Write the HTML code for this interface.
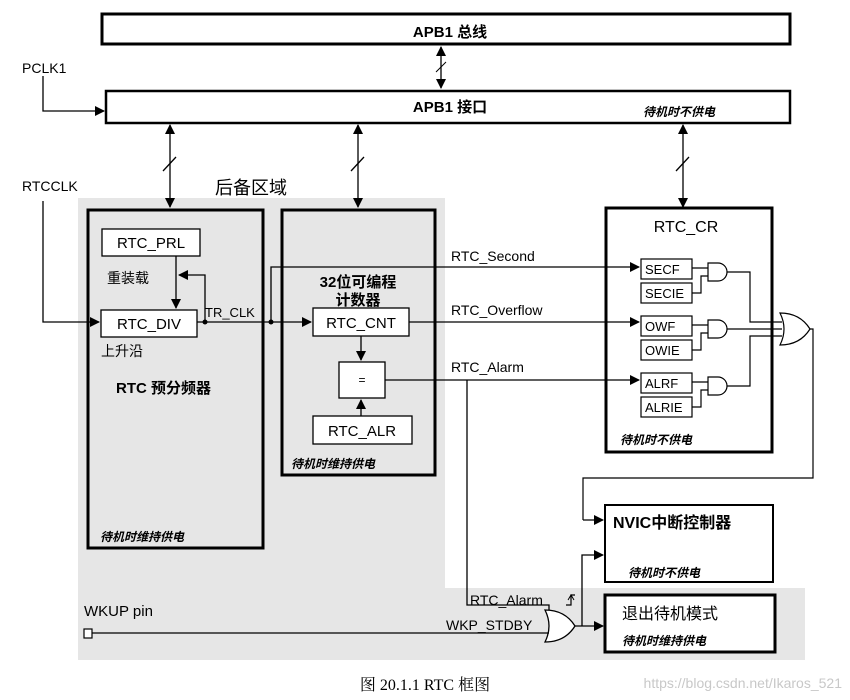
<!DOCTYPE html>
<html><head><meta charset="utf-8"><style>
html,body{margin:0;padding:0;background:#fff;}
svg{display:block}
text{font-family:"Liberation Sans","Noto Sans CJK SC",sans-serif;fill:#000}
.b{font-weight:bold}
.i{font-style:italic;font-weight:bold;font-size:12px}
</style></head><body>
<svg width="850" height="700" viewBox="0 0 850 700" xmlns="http://www.w3.org/2000/svg">
<defs>
<marker id="a" markerWidth="10" markerHeight="10" refX="9" refY="5" orient="auto" markerUnits="userSpaceOnUse"><path d="M0,0 L10,5 L0,10 z" fill="#000"/></marker>
<marker id="s" markerWidth="10" markerHeight="10" refX="1" refY="5" orient="auto" markerUnits="userSpaceOnUse"><path d="M10,0 L0,5 L10,10 z" fill="#000"/></marker>
</defs>
<path d="M78,198 H445 V588 H805 V660 H78 Z" fill="#e6e6e6"/>
<rect x="102" y="14" width="688" height="30" fill="#fff" stroke="#000" stroke-width="3"/>
<text x="450" y="37" text-anchor="middle" font-size="15" class="b">APB1 总线</text>
<rect x="106" y="91" width="684" height="32" fill="#fff" stroke="#000" stroke-width="2.5"/>
<text x="450" y="112" text-anchor="middle" font-size="15" class="b">APB1 接口</text>
<text x="643" y="116" class="i">待机时不供电</text>
<line x1="441" y1="47" x2="441" y2="88" stroke="#000" stroke-width="1.3" marker-start="url(#s)" marker-end="url(#a)"/>
<line x1="436" y1="72" x2="446" y2="62" stroke="#000"/>
<text x="22" y="73" font-size="14">PCLK1</text>
<polyline points="43,76 43,111 104,111" fill="none" stroke="#000" stroke-width="1.3" marker-end="url(#a)"/>
<g stroke="#000" stroke-width="1.3">
<line x1="170" y1="125" x2="170" y2="207" marker-start="url(#s)" marker-end="url(#a)"/>
<line x1="163" y1="171" x2="176" y2="157"/>
<line x1="358" y1="125" x2="358" y2="207" marker-start="url(#s)" marker-end="url(#a)"/>
<line x1="351" y1="171" x2="364" y2="157"/>
<line x1="683" y1="125" x2="683" y2="207" marker-start="url(#s)" marker-end="url(#a)"/>
<line x1="676" y1="171" x2="689" y2="157"/>
</g>
<text x="215" y="194" font-size="18">后备区域</text>
<text x="22" y="191" font-size="14">RTCCLK</text>
<rect x="88" y="210" width="175" height="338" fill="none" stroke="#000" stroke-width="3"/>
<rect x="102" y="229" width="98" height="27" fill="#fff" stroke="#000" stroke-width="1.3"/>
<text x="151" y="248" text-anchor="middle" font-size="15">RTC_PRL</text>
<rect x="101" y="310" width="96" height="27" fill="#fff" stroke="#000" stroke-width="1.3"/>
<text x="149" y="329" text-anchor="middle" font-size="15">RTC_DIV</text>
<text x="107" y="283" font-size="14">重装载</text>
<text x="101" y="356" font-size="14">上升沿</text>
<text x="116" y="393" font-size="15" class="b">RTC 预分频器</text>
<text x="100" y="541" class="i">待机时维持供电</text>
<polyline points="43,201 43,322 99,322" fill="none" stroke="#000" stroke-width="1.3" marker-end="url(#a)"/>
<line x1="176" y1="256" x2="176" y2="308" stroke="#000" stroke-width="1.3" marker-end="url(#a)"/>
<polyline points="205,322 205,275 179,275" fill="none" stroke="#000" stroke-width="1.3" marker-end="url(#a)"/>
<text x="205" y="317" font-size="13">TR_CLK</text>
<line x1="197" y1="322" x2="311" y2="322" stroke="#000" stroke-width="1.3" marker-end="url(#a)"/>
<circle cx="205" cy="322" r="2.5"/><circle cx="271" cy="322" r="2.5"/>
<rect x="282" y="210" width="153" height="265" fill="none" stroke="#000" stroke-width="3"/>
<rect x="606" y="208" width="166" height="244" fill="none" stroke="#000" stroke-width="3"/>
<polyline points="271,322 271,267 639,267" fill="none" stroke="#000" stroke-width="1.3" marker-end="url(#a)"/>
<text x="358" y="287" text-anchor="middle" font-size="15" class="b">32位可编程</text>
<text x="358" y="305" text-anchor="middle" font-size="15" class="b">计数器</text>
<rect x="313" y="308" width="96" height="28" fill="#fff" stroke="#000" stroke-width="1.3"/>
<text x="361" y="328" text-anchor="middle" font-size="15">RTC_CNT</text>
<line x1="361" y1="336" x2="361" y2="360" stroke="#000" stroke-width="1.3" marker-end="url(#a)"/>
<rect x="339" y="362" width="46" height="36" fill="#fff" stroke="#000" stroke-width="1.3"/>
<text x="362" y="384" text-anchor="middle" font-size="12">=</text>
<line x1="361" y1="416" x2="361" y2="400" stroke="#000" stroke-width="1.3" marker-end="url(#a)"/>
<rect x="313" y="416" width="99" height="28" fill="#fff" stroke="#000" stroke-width="1.3"/>
<text x="362" y="436" text-anchor="middle" font-size="15">RTC_ALR</text>
<text x="291" y="468" class="i">待机时维持供电</text>
<line x1="409" y1="322" x2="639" y2="322" stroke="#000" stroke-width="1.3" marker-end="url(#a)"/>
<line x1="385" y1="380" x2="639" y2="380" stroke="#000" stroke-width="1.3" marker-end="url(#a)"/>
<text x="451" y="261" font-size="14">RTC_Second</text>
<text x="451" y="315" font-size="14">RTC_Overflow</text>
<text x="451" y="372" font-size="14">RTC_Alarm</text>
<polyline points="467,380 467,605 549,605 549,615" fill="none" stroke="#000" stroke-width="1.3"/>
<text x="686" y="232" text-anchor="middle" font-size="16">RTC_CR</text>
<g font-size="13" stroke="#000" stroke-width="1.2">
<rect x="641" y="259" width="51" height="20" fill="#fff"/><rect x="641" y="283" width="51" height="20" fill="#fff"/>
<rect x="641" y="316" width="51" height="20" fill="#fff"/><rect x="641" y="340" width="51" height="20" fill="#fff"/>
<rect x="641" y="373" width="51" height="20" fill="#fff"/><rect x="641" y="397" width="51" height="20" fill="#fff"/>
</g>
<g font-size="13">
<text x="645" y="274">SECF</text><text x="645" y="298">SECIE</text>
<text x="645" y="331">OWF</text><text x="645" y="355">OWIE</text>
<text x="645" y="388">ALRF</text><text x="645" y="412">ALRIE</text>
</g>
<g fill="none" stroke="#000" stroke-width="1.2">
<path d="M708,263 H718 A9,9 0 0 1 718,281 H708 Z"/>
<path d="M708,320 H718 A9,9 0 0 1 718,338 H708 Z"/>
<path d="M708,377 H718 A9,9 0 0 1 718,395 H708 Z"/>
<path d="M692,268 H708 M692,293 H701 V276 H708"/>
<path d="M692,325 H708 M692,350 H701 V333 H708"/>
<path d="M692,382 H708 M692,407 H701 V390 H708"/>
<path d="M727,272 H750 V322 H782 M727,329 H782 M727,386 H750 V336 H782"/>
<path d="M780,313 Q800,313 810,329 Q800,345 780,345 Q788,329 780,313 Z"/>
<polyline points="810,329 813,329 813,478 583,478 583,520"/>
</g>
<line x1="583" y1="520" x2="603" y2="520" stroke="#000" stroke-width="1.3" marker-end="url(#a)"/>
<text x="620" y="444" class="i">待机时不供电</text>
<rect x="605" y="505" width="168" height="77" fill="#fff" stroke="#000" stroke-width="2"/>
<text x="613" y="528" font-size="16" class="b">NVIC中断控制器</text>
<text x="628" y="577" class="i">待机时不供电</text>
<rect x="605" y="595" width="170" height="57" fill="#fff" stroke="#000" stroke-width="3"/>
<text x="622" y="619" font-size="16">退出待机模式</text>
<text x="622" y="645" class="i">待机时维持供电</text>
<path d="M545,610 Q565,610 575,626 Q565,642 545,642 Q553,626 545,610 Z" fill="#fff" stroke="#000" stroke-width="1.3"/>
<line x1="575" y1="626" x2="603" y2="626" stroke="#000" stroke-width="1.3" marker-end="url(#a)"/>
<polyline points="582,626 582,555 603,555" fill="none" stroke="#000" stroke-width="1.3" marker-end="url(#a)"/>
<polyline points="566,605 571,605 571,595 575,595" fill="none" stroke="#000" stroke-width="1.2"/>
<path d="M568,600 L571,595 L574,600" fill="none" stroke="#000"/>
<text x="470" y="605" font-size="14">RTC_Alarm</text>
<text x="84" y="616" font-size="15">WKUP pin</text>
<rect x="84" y="629" width="8" height="9" fill="#fff" stroke="#000" stroke-width="1.2"/>
<line x1="92" y1="633" x2="549" y2="633" stroke="#000" stroke-width="1.3"/>
<text x="446" y="630" font-size="14">WKP_STDBY</text>
<text x="425" y="690" text-anchor="middle" font-size="16" style="font-family:'Liberation Serif','Noto Serif CJK SC',serif">图 20.1.1 RTC 框图</text>
<text x="842" y="688" text-anchor="end" font-size="14" style="fill:#c8c8c8">https://blog.csdn.net/Ikaros_521</text>
</svg>
</body></html>
